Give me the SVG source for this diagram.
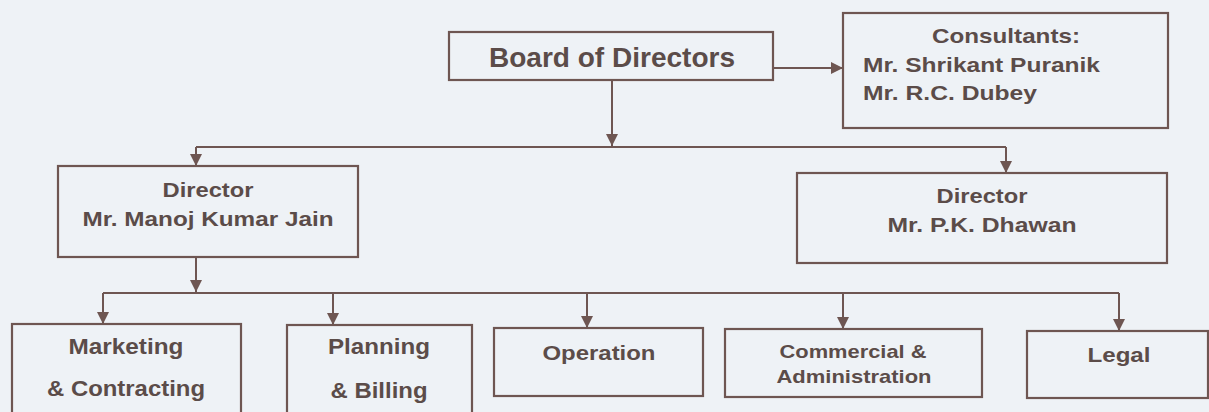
<svg xmlns="http://www.w3.org/2000/svg" width="1209" height="412" viewBox="0 0 1209 412">
<defs>
<style>
.bg{fill:#eef2f6}
.box{fill:none;stroke:#6e5652;stroke-width:2.2}
.t{font-family:"Liberation Sans",Arial,sans-serif;font-weight:bold;fill:#5b4c49;font-size:21px}
.c{text-anchor:middle}
.con{fill:none;stroke:#6e5652;stroke-width:2}
</style>
<marker id="ah" markerUnits="userSpaceOnUse" markerWidth="12" markerHeight="12" viewBox="0 0 10 10" refX="10" refY="5" orient="auto">
<path d="M0,0 L10,5 L0,10 z" fill="#6e5652"/>
</marker>
</defs>
<rect class="bg" x="0" y="0" width="1209" height="412"/>
<g id="connectors">
<path class="con" d="M773,68 H843" marker-end="url(#ah)"/>
<path class="con" d="M612,80 V146" marker-end="url(#ah)"/>
<path class="con" d="M196,147 H1006"/>
<path class="con" d="M196,147 V166" marker-end="url(#ah)"/>
<path class="con" d="M1006,147 V173" marker-end="url(#ah)"/>
<path class="con" d="M196,257 V292" marker-end="url(#ah)"/>
<path class="con" d="M103,293 H1119"/>
<path class="con" d="M103,293 V324" marker-end="url(#ah)"/>
<path class="con" d="M333,293 V325" marker-end="url(#ah)"/>
<path class="con" d="M587,293 V328" marker-end="url(#ah)"/>
<path class="con" d="M843,293 V329" marker-end="url(#ah)"/>
<path class="con" d="M1119,293 V331" marker-end="url(#ah)"/>
</g>
<g id="board">
<rect class="box" x="449" y="32" width="324" height="48"/>
<text class="t c" x="612" y="67" style="font-size:27px" textLength="246" lengthAdjust="spacingAndGlyphs">Board of Directors</text>
</g>
<g id="consultants">
<rect class="box" x="843" y="13" width="325" height="115"/>
<text class="t c" x="1006" y="43" textLength="148" lengthAdjust="spacingAndGlyphs">Consultants:</text>
<text class="t" x="863" y="72" textLength="237" lengthAdjust="spacingAndGlyphs">Mr. Shrikant Puranik</text>
<text class="t" x="863" y="100" textLength="174" lengthAdjust="spacingAndGlyphs">Mr. R.C. Dubey</text>
</g>
<g id="director-jain">
<rect class="box" x="58" y="166" width="300" height="91"/>
<text class="t c" x="208" y="197" textLength="91" lengthAdjust="spacingAndGlyphs">Director</text>
<text class="t c" x="208" y="226" textLength="251" lengthAdjust="spacingAndGlyphs">Mr. Manoj Kumar Jain</text>
</g>
<g id="director-dhawan">
<rect class="box" x="797" y="173" width="370" height="90"/>
<text class="t c" x="982" y="203" textLength="91" lengthAdjust="spacingAndGlyphs">Director</text>
<text class="t c" x="982" y="232" textLength="189" lengthAdjust="spacingAndGlyphs">Mr. P.K. Dhawan</text>
</g>
<g id="marketing">
<rect class="box" x="12" y="324" width="229" height="100"/>
<text class="t c" x="126" y="354" style="font-size:22px" textLength="115" lengthAdjust="spacingAndGlyphs">Marketing</text>
<text class="t c" x="126" y="396" style="font-size:22px" textLength="158" lengthAdjust="spacingAndGlyphs">&amp; Contracting</text>
</g>
<g id="planning">
<rect class="box" x="287" y="325" width="185" height="100"/>
<text class="t c" x="379" y="354" style="font-size:22px" textLength="102" lengthAdjust="spacingAndGlyphs">Planning</text>
<text class="t c" x="379" y="398" style="font-size:22px" textLength="97" lengthAdjust="spacingAndGlyphs">&amp; Billing</text>
</g>
<g id="operation">
<rect class="box" x="494" y="328" width="209" height="68"/>
<text class="t c" x="599" y="360" textLength="113" lengthAdjust="spacingAndGlyphs">Operation</text>
</g>
<g id="commercial">
<rect class="box" x="725" y="329" width="257" height="68"/>
<text class="t c" x="853" y="358" style="font-size:19px" textLength="147" lengthAdjust="spacingAndGlyphs">Commercial &amp;</text>
<text class="t c" x="854" y="383" style="font-size:19px" textLength="155" lengthAdjust="spacingAndGlyphs">Administration</text>
</g>
<g id="legal">
<rect class="box" x="1027" y="331" width="181" height="67"/>
<text class="t c" x="1119" y="362" textLength="63" lengthAdjust="spacingAndGlyphs">Legal</text>
</g>
</svg>
